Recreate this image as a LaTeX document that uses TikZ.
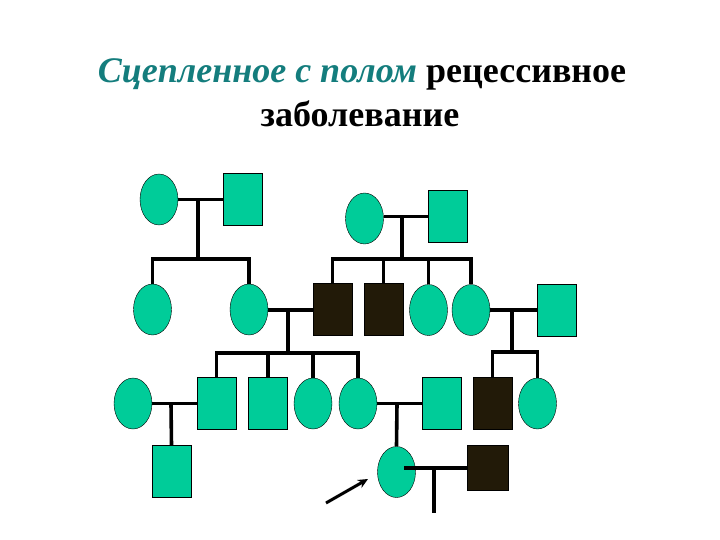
\documentclass[tikz,border=0pt]{standalone}
\usepackage{fontspec}
\setmainfont{Liberation Serif}
\usetikzlibrary{shapes.geometric,arrows.meta}
\definecolor{tealfill}{RGB}{0,204,153}
\definecolor{affected}{RGB}{34,26,8}
\definecolor{titlecol}{RGB}{20,125,125}
\begin{document}
\begin{tikzpicture}[x=1pt,y=-1pt,
  fem/.style={ellipse,draw=black,thin,fill=tealfill,minimum width=38pt,minimum height=51pt,inner sep=0pt},
  mal/.style={rectangle,draw=black,thin,fill=tealfill,minimum width=39pt,minimum height=52pt,inner sep=0pt},
  amal/.style={mal,fill=affected},
  ln/.style={line width=3.6pt},
  titlefont/.style={font=\fontsize{36}{40}\selectfont\bfseries}]
\useasboundingbox (0,0) rectangle (720,540);

% title
\node[titlefont,anchor=base] (t1) at (362,83) {{\itshape\color{titlecol}Сцепленное с полом} рецессивное};
\node[titlefont,anchor=base] (t2) at (360,127) {заболевание};

% generation I
\node[fem] (I1f) at (159,199.5) {};
\node[mal] (I1m) at (242.5,199.5) {};
\node[fem] (I2f) at (364.5,218.5) {};
\node[mal] (I2m) at (447.5,216.5) {};

% generation II
\node[fem] (a) at (152.5,309.5) {};
\node[fem] (b) at (249,309.5) {};
\node[amal] (s1) at (332.5,309.5) {};
\node[amal] (s2) at (383.5,309.5) {};
\node[fem] (c) at (428.5,310) {};
\node[fem] (d) at (471,310) {};
\node[mal] (r) at (557,310) {};

% generation III
\node[fem] (e) at (133,403.5) {};
\node[mal] (f) at (216.5,403.5) {};
\node[mal] (g) at (268,403.5) {};
\node[fem] (h) at (313,403.5) {};
\node[fem] (i) at (358,403.5) {};
\node[mal] (k) at (441.5,403.5) {};
\node[amal] (l) at (492.5,403.5) {};
\node[fem] (m) at (537.5,403.5) {};

% generation IV
\node[mal] (j) at (171.5,471.5) {};
\node[fem] (p) at (396.5,472) {};
\node[amal,minimum width=41pt,minimum height=45pt] (n) at (487.5,468) {};

% coordinates
\coordinate (m1) at (198,199.5);
\coordinate (sb1) at (198,259);
\coordinate (m2) at (402,216.5);
\coordinate (sb2) at (402,259);
\coordinate (m3) at (288,310);
\coordinate (sb3) at (288,353);
\coordinate (m4) at (512,310);
\coordinate (sb4) at (512,352);
\coordinate (m5) at (171,403.5);
\coordinate (m6) at (397,403.5);
\coordinate (pm) at (404,468);
\coordinate (m7) at (434,468);
\coordinate (m7e) at (434,513);
\coordinate (arS) at (326,503);
\coordinate (arE) at (368,479);

% family 1
\draw[ln] (I1f.east |- m1) -- (I1m.west |- m1);
\draw[ln] (m1) -- (sb1);
\draw[ln] (a.north) -- (a.north |- sb1) -- (b.north |- sb1) -- (b.north);

% family 2
\draw[ln] (I2f.east |- m2) -- (I2m.west |- m2);
\draw[ln] (m2) -- (sb2);
\draw[ln] (s1.north) -- (s1.north |- sb2) -- (d.north |- sb2) -- (d.north);
\draw[ln] (s2.north) -- (s2.north |- sb2);
\draw[ln] (c.north) -- (c.north |- sb2);

% family 3 (b x s1)
\draw[ln] (b.east |- m3) -- (s1.west |- m3);
\draw[ln] (m3) -- (sb3);
\draw[ln] (f.north) -- (f.north |- sb3) -- (i.north |- sb3) -- (i.north);
\draw[ln] (g.north) -- (g.north |- sb3);
\draw[ln] (h.north) -- (h.north |- sb3);

% family 4 (d x r)
\draw[ln] (d.east |- m4) -- (r.west |- m4);
\draw[ln] (m4) -- (sb4);
\draw[ln] (l.north) -- (l.north |- sb4) -- (m.north |- sb4) -- (m.north);

% family 5 (e x f)
\draw[ln] (e.east |- m5) -- (f.west |- m5);
\draw[ln] (m5) -- (j.north);

% family 6 (i x k)
\draw[ln] (i.east |- m6) -- (k.west |- m6);
\draw[ln] (m6) -- (p.north);

% family 7 (p x n)
\draw[ln] (pm) -- (n.west |- pm);
\draw[ln] (m7) -- (m7e);

% proband arrow
\draw[line width=3pt,-{Stealth[length=10pt,width=9pt]}] (arS) -- (arE);
\end{tikzpicture}
\end{document}
